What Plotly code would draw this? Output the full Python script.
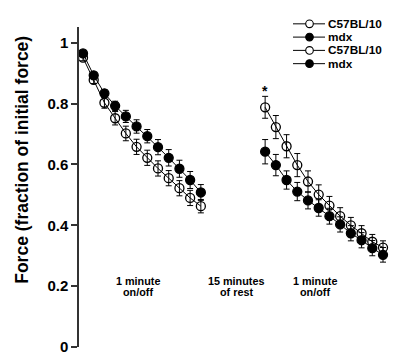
import plotly.graph_objects as go

# ---- data ----
trial_1 = [1, 2, 3, 4, 5, 6, 7, 8, 9, 10, 11, 12]
trial_2 = [18, 19, 20, 21, 22, 23, 24, 25, 26, 27, 28, 29]

c57_1 = [0.951, 0.878, 0.803, 0.752, 0.702, 0.658, 0.622, 0.587, 0.555, 0.522, 0.490, 0.463]
c57_1_err = [0.010, 0.012, 0.018, 0.022, 0.024, 0.025, 0.025, 0.025, 0.025, 0.025, 0.025, 0.022]
mdx_1 = [0.965, 0.893, 0.834, 0.793, 0.758, 0.725, 0.693, 0.657, 0.622, 0.586, 0.549, 0.508]
mdx_1_err = [0.008, 0.010, 0.012, 0.015, 0.020, 0.022, 0.022, 0.025, 0.027, 0.028, 0.028, 0.026]

c57_2 = [0.788, 0.723, 0.660, 0.598, 0.544, 0.501, 0.465, 0.430, 0.400, 0.374, 0.346, 0.327]
c57_2_err = [0.036, 0.038, 0.038, 0.038, 0.035, 0.032, 0.030, 0.028, 0.026, 0.025, 0.024, 0.022]
mdx_2 = [0.642, 0.598, 0.549, 0.511, 0.482, 0.457, 0.430, 0.403, 0.374, 0.351, 0.325, 0.303]
mdx_2_err = [0.040, 0.035, 0.030, 0.030, 0.028, 0.027, 0.026, 0.025, 0.025, 0.025, 0.025, 0.024]

legend_labels = ["C57BL/10", "mdx", "C57BL/10", "mdx"]
y_ticks = [0, 0.2, 0.4, 0.6, 0.8, 1]
y_tick_text = ["0", "0.2", "0.4", "0.6", "0.8", "1"]

FONT = "Arial, Liberation Sans, sans-serif"
W, H = 397, 354
ML, MR, MT, MB = 71, 7, 19, 12
PW, PH = W - ML - MR, H - MT - MB


def px_x(p):
    return (p - ML) / PW


def px_y(p):
    return 1 - (p - MT) / PH


fig = go.Figure()

series = [
    (trial_1, c57_1, c57_1_err, False, legend_labels[0]),
    (trial_1, mdx_1, mdx_1_err, True, legend_labels[1]),
    (trial_2, c57_2, c57_2_err, False, legend_labels[2]),
    (trial_2, mdx_2, mdx_2_err, True, legend_labels[3]),
]
for xs, ys, es, filled, name in series:
    fig.add_trace(go.Scatter(
        x=xs, y=ys, name=name, mode="lines+markers",
        line=dict(color="black", width=1),
        marker=dict(symbol="circle" if filled else "circle-open", size=9,
                    color="black", line=dict(color="black", width=1.3)),
        error_y=dict(type="data", array=es, visible=True, color="black",
                     thickness=1, width=3),
        showlegend=False, cliponaxis=False,
    ))

# manual compact legend
shapes = []
annotations = []
rows = [15.8, 29.2, 42.6, 56.0]
for i, (lab, r) in enumerate(zip(legend_labels, rows)):
    filled = (i % 2 == 1)
    yp = px_y(r)
    shapes.append(dict(type="line", xref="paper", yref="paper",
                       x0=px_x(285), x1=px_x(317), y0=yp, y1=yp,
                       line=dict(color="black", width=1)))
    shapes.append(dict(type="circle", xref="paper", yref="paper",
                       xsizemode="pixel", ysizemode="pixel",
                       xanchor=px_x(301.5), yanchor=yp,
                       x0=-3.8, x1=3.8, y0=-3.8, y1=3.8,
                       fillcolor="black" if filled else "white",
                       line=dict(color="black", width=1.1)))
    annotations.append(dict(xref="paper", yref="paper", x=px_x(318), y=yp,
                            text="<b>%s</b>" % lab, showarrow=False,
                            xanchor="left", yanchor="middle",
                            font=dict(family=FONT, size=11.8, color="black")))

# y-axis title
annotations.append(dict(xref="paper", yref="paper", x=px_x(14), y=px_y(153),
                        text="<b>Force (fraction of initial force)</b>",
                        textangle=-90, showarrow=False,
                        xanchor="center", yanchor="middle",
                        font=dict(family=FONT, size=17.5, color="black")))

# period labels
period = [(130, "1 minute", "on/off"), (228, "15 minutes", "of rest"), (307, "1 minute", "on/off")]
for xp, l1, l2 in period:
    for txt, yy in ((l1, 275), (l2, 286.5)):
        annotations.append(dict(xref="paper", yref="paper", x=px_x(xp), y=px_y(yy),
                                text="<b>%s</b>" % txt, showarrow=False,
                                xanchor="center", yanchor="middle",
                                font=dict(family=FONT, size=10.8, color="black")))

# significance star
annotations.append(dict(xref="x", yref="y", x=trial_2[0], y=0.842,
                        text="<b>*</b>", showarrow=False,
                        xanchor="center", yanchor="middle",
                        font=dict(family=FONT, size=14, color="black")))

fig.update_layout(
    width=W, height=H,
    margin=dict(l=ML, r=MR, t=MT, b=MB),
    paper_bgcolor="white", plot_bgcolor="white",
    showlegend=False,
    shapes=shapes, annotations=annotations,
    xaxis=dict(range=[0.627, 30.4], visible=False, showgrid=False, zeroline=False),
    yaxis=dict(range=[0, 1.052], showgrid=False, zeroline=False,
               showline=True, linecolor="#333", linewidth=1.5,
               ticks="outside", ticklen=6, tickwidth=1.5, tickcolor="#333",
               tickvals=y_ticks, ticktext=y_tick_text,
               tickfont=dict(family=FONT, size=15, color="black", weight="bold")),
    font=dict(family=FONT, color="black"),
)

fig.write_html("out.html")
